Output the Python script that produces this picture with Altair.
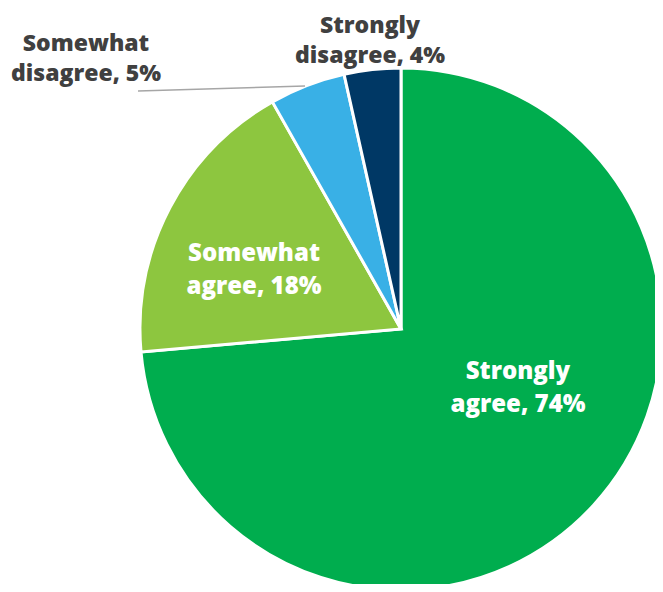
import altair as alt
import pandas as pd

# Data (slice sizes in %, clockwise from 12 o'clock)
categories = ["Strongly agree", "Somewhat agree", "Somewhat disagree", "Strongly disagree"]
values = [73.6, 18.2, 4.7, 3.5]
order = [1, 2, 3, 4]
colors = ["#00AD4E", "#8DC63F", "#39B0E6", "#003865"]

# Label texts
label_text = [
    "Strongly\nagree, 74%",
    "Somewhat\nagree, 18%",
    "Somewhat\ndisagree, 5%",
    "Strongly\ndisagree, 4%",
]
label_color = ["#FFFFFF", "#FFFFFF", "#404040", "#404040"]
label_inside = [True, True, False, False]

# Layout (pixel positions of label first-line baselines, relative to plot origin)
label_x = [510, 246, 78, 362]
label_y = [371, 253, 43, 25]
label_size = [24, 24, 23, 23]

W, H = 647, 576
CX, CY, R = 393, 321, 261

pie_df = pd.DataFrame({"category": categories, "value": values, "order": order})
lab_df = pd.DataFrame({"text": label_text, "color": label_color, "lx": label_x,
                       "ly": label_y, "fs": label_size, "inside": label_inside})

pie = alt.Chart(pie_df).mark_arc(radius=R, stroke="white", strokeWidth=3).encode(
    theta=alt.Theta("value:Q", stack=True),
    order=alt.Order("order:Q"),
    color=alt.Color("category:N", scale=alt.Scale(domain=categories, range=colors), legend=None),
    x=alt.value(CX),
    y=alt.value(CY),
)


def text_layer(inside, line_height):
    return alt.Chart(lab_df).transform_filter(
        alt.datum.inside == inside
    ).mark_text(
        font="Open Sans", fontWeight=800, lineBreak="\n", lineHeight=line_height,
        align="center", baseline="alphabetic",
    ).encode(
        x=alt.X("lx:Q", scale=None),
        y=alt.Y("ly:Q", scale=None),
        size=alt.Size("fs:Q", scale=None),
        text="text:N",
        color=alt.Color("color:N", scale=None),
    )


leader = alt.Chart(pd.DataFrame({"a": [0]})).mark_rule(color="#A6A6A6", strokeWidth=1.5).encode(
    x=alt.value(130), y=alt.value(83), x2=alt.value(297), y2=alt.value(78)
)

chart = alt.layer(pie, leader, text_layer(True, 33), text_layer(False, 30)).properties(
    width=W, height=H, padding=0, autosize=alt.AutoSizeParams(type="none")
).configure_view(stroke=None)

chart.save("out.html", embed_options={"renderer": "svg", "actions": False})
